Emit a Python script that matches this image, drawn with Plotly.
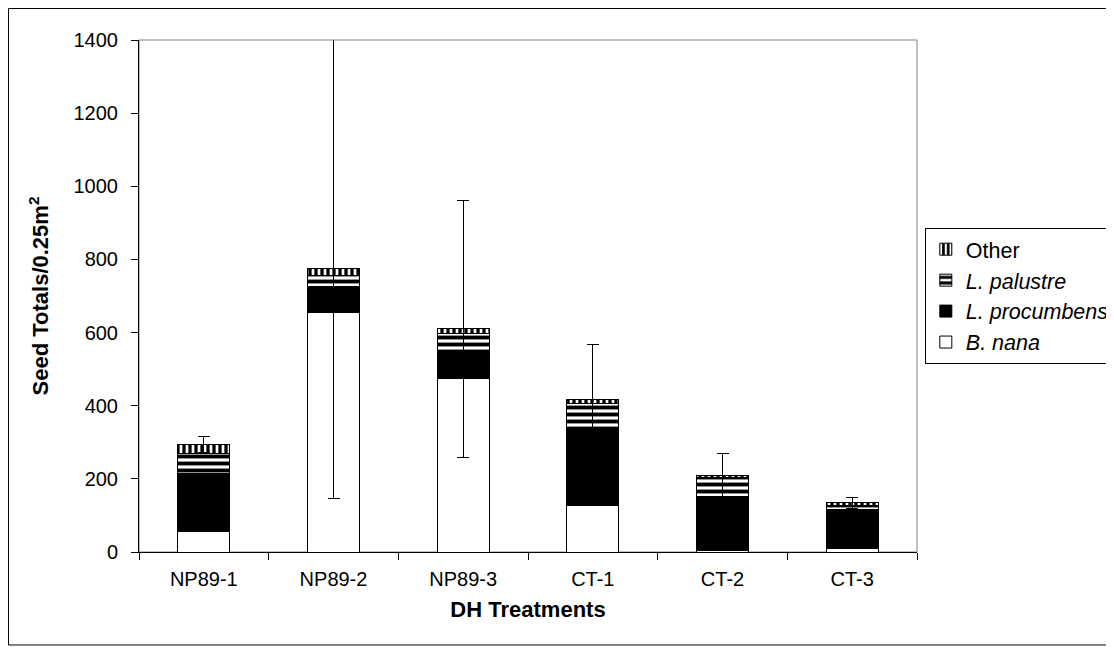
import plotly.graph_objects as go

categories = ["NP89-1", "NP89-2", "NP89-3", "CT-1", "CT-2", "CT-3"]
b_nana = [55, 654, 474, 127, 4, 9]
l_procumbens = [161, 71, 77, 204, 148, 106]
l_palustre = [52, 32, 46, 76, 53, 13]
other = [25, 18, 13, 10, 3, 6]
error = [22, 628, 352, 150, 61, 15]
tick_vals = [0, 200, 400, 600, 800, 1000, 1200, 1400]

FONT = "Liberation Sans, Arial, sans-serif"
FS = 20
line = dict(color="black", width=1)

fig = go.Figure()
fig.add_trace(go.Bar(x=categories, y=b_nana, name="<i>B. nana</i>",
                     marker=dict(color="white", line=line)))
fig.add_trace(go.Bar(x=categories, y=l_procumbens, name="<i>L. procumbens</i>",
                     marker=dict(color="black", line=line)))
fig.add_trace(go.Bar(x=categories, y=l_palustre, name="<i>L. palustre</i>",
                     marker=dict(color="white", line=line,
                                 pattern=dict(shape="-", fgcolor="black", bgcolor="white",
                                              size=7, solidity=0.55, fillmode="replace"))))
fig.add_trace(go.Bar(x=categories, y=other, name="Other",
                     marker=dict(color="white", line=line,
                                 pattern=dict(shape="|", fgcolor="black", bgcolor="white",
                                              size=6, solidity=0.55, fillmode="replace")),
                     error_y=dict(type="data", array=error, visible=True,
                                  color="black", thickness=1, width=6)))

fig.update_layout(
    barmode="stack",
    bargap=0.6,
    width=1114, height=652,
    margin=dict(l=131, r=205, t=32, b=108, autoexpand=False),
    paper_bgcolor="white", plot_bgcolor="white",
    font=dict(family=FONT, size=FS, color="black"),
    showlegend=True,
    legend=dict(traceorder="reversed", xref="container", yref="container",
                x=0.823, xanchor="left", y=0.663, yanchor="top",
                bordercolor="black", borderwidth=1, bgcolor="white",
                font=dict(family=FONT, size=21.5), itemwidth=30, tracegroupgap=0),
    xaxis=dict(showline=True, linecolor="black", linewidth=1, ticks="outside",
               tickson="boundaries", ticklen=7, tickcolor="black", ticklabelstandoff=9,
               title=dict(text="<b>DH Treatments</b>", font=dict(size=22), standoff=12),
               tickfont=dict(size=FS)),
    yaxis=dict(range=[0, 1400], tickvals=tick_vals, showline=True, linecolor="black",
               linewidth=1, ticks="outside", ticklen=7, tickcolor="black",
               ticklabelstandoff=9,
               showgrid=False, zeroline=False, tickfont=dict(size=FS),
               title=dict(text="<b>Seed Totals/0.25m<sup>2</sup></b>", font=dict(size=22),
                          standoff=18)),
    shapes=[
        dict(type="rect", xref="paper", yref="paper", x0=0, x1=1, y0=0, y1=1,
             line=dict(color="#808080", width=1), layer="below"),
        dict(type="rect", xref="paper", yref="paper", x0=-0.1677, x1=1.2442,
             y0=-0.1816, y1=1.0615, line=dict(color="black", width=1)),
    ],
)

fig.write_html("out.html")
